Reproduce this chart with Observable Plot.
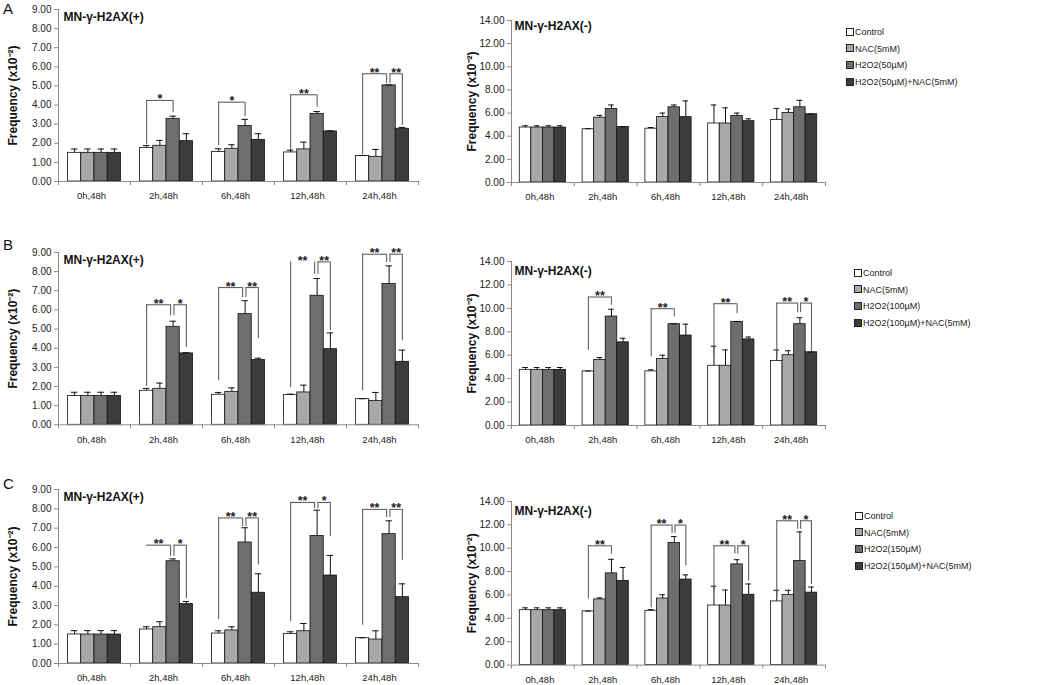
<!DOCTYPE html>
<html><head><meta charset="utf-8">
<script src="https://cdn.jsdelivr.net/npm/d3@7"></script>
<script src="https://cdn.jsdelivr.net/npm/@observablehq/plot@0.6"></script>
<style>
body{margin:0;background:#fff;font-family:"Liberation Sans",Arial,sans-serif;}
#root{position:relative;width:1050px;height:685px;overflow:hidden;background:#fff}
.p{position:absolute}
.p svg{overflow:visible}
g[aria-label="y-axis label"] text{font-weight:bold;font-size:12px;fill:#111}
g[aria-label="y-axis tick label"] text{font-size:10px}
.letter{position:absolute;font-size:15px;color:#111;line-height:1}
.legend{position:absolute;font-size:9px;color:#222}
.legend div{height:16.7px;line-height:16.7px;white-space:nowrap}
.legend span{display:inline-block;width:6px;height:6px;border:1px solid #222;margin-right:1px;vertical-align:-0.5px}
</style></head>
<body><div id="root"></div>
<script>
const categories = ["0h,48h","2h,48h","6h,48h","12h,48h","24h,48h"];
const legendA = ["Control","NAC(5mM)","H2O2(50µM)","H2O2(50µM)+NAC(5mM)"];
const legendB = ["Control","NAC(5mM)","H2O2(100µM)","H2O2(100µM)+NAC(5mM)"];
const legendC = ["Control","NAC(5mM)","H2O2(150µM)","H2O2(150µM)+NAC(5mM)"];
const titlePos = "MN-γ-H2AX(+)";
const titleNeg = "MN-γ-H2AX(-)";
const yLabel = "Frequency (x10⁻²)";

// rows: Control, NAC, H2O2, H2O2+NAC ; columns: categories
const meanPosA = [[1.5,1.76,1.55,1.52,1.33],[1.5,1.87,1.71,1.68,1.29],[1.5,3.28,2.91,3.54,5.03],[1.5,2.11,2.18,2.62,2.76]];
const errPosA  = [[0.2,0.12,0.16,0.12,0.03],[0.2,0.28,0.21,0.38,0.39],[0.2,0.14,0.34,0.12,0.02],[0.2,0.39,0.32,0.03,0.07]];
const meanNegA = [[4.75,4.6,4.65,5.1,5.4],[4.75,5.6,5.65,5.1,6.0],[4.75,6.35,6.5,5.75,6.5],[4.75,4.8,5.65,5.3,5.9]];
const errNegA  = [[0.15,0.05,0.1,1.6,1.0],[0.15,0.2,0.35,1.35,0.35],[0.15,0.35,0.2,0.25,0.6],[0.15,0.02,1.4,0.2,0.02]];
const meanPosB = [[1.5,1.78,1.57,1.55,1.34],[1.5,1.88,1.72,1.69,1.25],[1.5,5.12,5.78,6.74,7.35],[1.5,3.73,3.38,3.95,3.29]];
const errPosB  = [[0.2,0.12,0.12,0.05,0.02],[0.2,0.3,0.21,0.38,0.44],[0.2,0.29,0.7,0.9,0.95],[0.2,0.03,0.1,0.85,0.61]];
const meanNegB = [[4.75,4.62,4.62,5.1,5.5],[4.75,5.6,5.68,5.1,6.0],[4.75,9.3,8.65,8.85,8.65],[4.75,7.1,7.68,7.35,6.25]];
const errNegB  = [[0.2,0.03,0.13,1.67,0.95],[0.2,0.2,0.32,1.35,0.38],[0.2,0.62,0.02,0.02,0.55],[0.2,0.35,0.97,0.2,0.02]];
const meanPosC = [[1.5,1.76,1.55,1.52,1.31],[1.5,1.88,1.71,1.67,1.24],[1.5,5.29,6.26,6.6,6.69],[1.5,3.07,3.66,4.55,3.43]];
const errPosC  = [[0.2,0.14,0.14,0.12,0.02],[0.2,0.28,0.19,0.4,0.45],[0.2,0.12,0.76,1.33,0.69],[0.2,0.14,0.98,1.04,0.69]];
const meanNegC = [[4.7,4.6,4.65,5.1,5.45],[4.7,5.62,5.7,5.1,6.0],[4.7,7.85,10.45,8.62,8.9],[4.7,7.2,7.32,6.02,6.2]];
const errNegC  = [[0.2,0.02,0.1,1.65,0.95],[0.2,0.13,0.32,1.32,0.4],[0.2,1.2,0.55,0.4,2.5],[0.2,1.15,0.4,0.92,0.48]];

// significance brackets: [category, from series, to series, left foot, right foot, top, label, shape]
const sigPosA = [[1,0,2,1.92,3.6,4.24,"*","full"],[2,0,2,1.88,3.4,4.15,"*","full"],[3,0,2,1.62,3.89,4.54,"**","full"],[4,0,2,1.4,5.11,5.64,"**","full"],[4,2,3,5.11,2.93,5.64,"**","full"]];
const sigNegA = [];
const sigPosB = [[1,0,2,2.0,5.69,6.27,"**","full"],[1,2,3,5.69,4.04,6.27,"*","full"],[2,0,2,2.3,6.65,7.17,"**","full"],[2,2,3,6.65,4.51,7.17,"**","full"],[3,0,2,1.95,7.87,8.51,"**","noTop"],[3,2,3,7.87,4.91,8.51,"**","full"],[4,0,2,1.78,8.48,8.91,"**","full"],[4,2,3,8.48,4.39,8.91,"**","full"]];
const sigNegB = [[1,0,2,6.41,10.26,10.97,"**","full"],[2,0,2,5.84,9.26,9.97,"**","full"],[3,0,2,6.13,9.54,10.4,"**","full"],[4,0,2,5.84,9.63,10.45,"**","full"],[4,2,3,9.63,6.32,10.45,"*","full"]];
const sigPosC = [[1,0,2,6.12,5.55,6.12,"**","noLeft"],[1,2,3,5.55,3.35,6.12,"*","full"],[2,0,2,2.28,7.07,7.53,"**","full"],[2,2,3,7.07,5.09,7.53,"**","full"],[3,0,2,2.16,8.02,8.33,"**","full"],[3,2,3,8.02,6.55,8.33,"*","full"],[4,0,2,1.98,7.55,7.97,"**","full"],[4,2,3,7.55,5.34,7.97,"**","full"]];
const sigNegC = [[1,0,2,5.65,9.5,10.21,"**","full"],[2,0,2,4.9,11.26,11.98,"**","full"],[2,2,3,11.26,8.5,11.98,"*","full"],[3,0,2,6.36,9.5,10.21,"**","full"],[3,2,3,9.5,7.2,10.21,"*","full"],[4,0,2,5.7,11.63,12.35,"**","full"],[4,2,3,11.63,6.9,12.35,"*","full"]];

const fills = ["#ffffff","#a8a8a8","#6e6e6e","#3c3c3c"];
const axisColor = "#8a8a8a";
const bw = 0.184;
const root = document.getElementById("root");

function panel(cfg) {
  const {means, errs, sigs, yMax, yStep, title, left, width, mLeft, mRight, plotTop, plotBottom, labelOffset} = cfg;
  const rows = [];
  means.forEach((arr, s) => arr.forEach((v, c) => rows.push({c, s, v, e: errs[s][c], x: c + (s - 1.5) * bw})));
  const br = sigs.map(([c, from, to, lf, rf, top, label, shape]) => {
    const paired = sigs.some(o => o[0] === c && o[1] === 2);
    let xL = c + (from - 1.5) * bw, xR = c + (to - 1.5) * bw;
    if (paired && to === 2) xR -= 0.035;
    if (paired && from === 2) xL += 0.012;
    return {xL, xR, lf, rf, top, label, shape};
  });
  const mt = Math.min(plotTop, 14);
  const mb = 28;
  const height = plotBottom - plotTop + mt + mb;
  const cap = 0.045;
  const bstroke = "#606060";
  const chart = Plot.plot({
    width, height, marginLeft: mLeft, marginRight: mRight, marginTop: mt, marginBottom: mb,
    style: {fontFamily: '"Liberation Sans", Arial, sans-serif', fontSize: "9.5px", background: "transparent", overflow: "visible", color: "#222"},
    x: {domain: [-0.5, 4.5], axis: null},
    y: {domain: [0, yMax], axis: null},
    color: {type: "ordinal", domain: [0,1,2,3], range: fills},
    marks: [
      Plot.rectY(rows, {x1: d => d.x - bw/2, x2: d => d.x + bw/2, y1: 0, y2: "v", fill: "s", stroke: "#111", strokeWidth: 0.8}),
      Plot.ruleX(rows, {x: "x", y1: "v", y2: d => d.v + d.e, stroke: "#111", strokeWidth: 1}),
      Plot.ruleY(rows, {y: d => d.v + d.e, x1: d => d.x - cap, x2: d => d.x + cap, stroke: "#111", strokeWidth: 1}),
      Plot.ruleX(br.filter(d => d.shape !== "noLeft"), {x: "xL", y1: "lf", y2: "top", stroke: bstroke, strokeWidth: 1.1}),
      Plot.ruleX(br, {x: "xR", y1: "rf", y2: "top", stroke: bstroke, strokeWidth: 1.1}),
      Plot.ruleY(br.filter(d => d.shape !== "noTop"), {y: "top", x1: "xL", x2: "xR", stroke: bstroke, strokeWidth: 1.1}),
      Plot.text(br, {x: d => (d.xL + d.xR) / 2, y: "top", text: "label", lineAnchor: "bottom", dy: 3, fontSize: 12.5, fontWeight: "bold", fill: "#222"}),
      Plot.ruleY([0], {stroke: axisColor}),
      Plot.ruleX([-0.5], {stroke: axisColor}),
      Plot.axisY({ticks: d3.range(0, yMax + 1e-9, yStep), tickFormat: d => d.toFixed(2), tickSize: 4, tickPadding: 3, stroke: axisColor, fill: "#222",
        label: yLabel, labelAnchor: "center", labelArrow: "none", labelOffset}),
      Plot.axisX({ticks: [-0.5, 0.5, 1.5, 2.5, 3.5, 4.5], tickSize: 4, tickFormat: () => "", stroke: axisColor, label: null}),
      Plot.axisX({ticks: [0, 1, 2, 3, 4], tickSize: 0, tickPadding: 11, tickFormat: i => categories[i], dx: -3, fill: "#222", label: null}),
      Plot.text([title], {text: d => d, frameAnchor: "top-left", dx: cfg.titleDx, dy: cfg.titleDy, lineAnchor: "middle", fontSize: 12, fontWeight: "bold", fill: "#111"})
    ]
  });
  const div = document.createElement("div");
  div.className = "p";
  div.style.left = left + "px";
  div.style.top = (plotTop - mt) + "px";
  div.style.width = width + "px";
  div.appendChild(chart);
  root.appendChild(div);
}

function legend(items, left, top) {
  const d = document.createElement("div");
  d.className = "legend";
  d.style.left = left + "px"; d.style.top = top + "px";
  items.forEach((t, i) => {
    const it = document.createElement("div");
    const sw = document.createElement("span");
    sw.style.background = fills[i];
    it.appendChild(sw);
    it.appendChild(document.createTextNode(t));
    d.appendChild(it);
  });
  root.appendChild(d);
}

function letter(t, left, top) {
  const d = document.createElement("div");
  d.className = "letter"; d.textContent = t;
  d.style.left = left + "px"; d.style.top = top + "px";
  root.appendChild(d);
}

const leftCfg = {left: 0, width: 440, mLeft: 58, mRight: 22, yMax: 9, yStep: 1, title: titlePos, labelOffset: 50, titleDx: 5, titleDy: 8};
const rightCfg = {left: 440, width: 400, mLeft: 71, mRight: 15, yMax: 14, yStep: 2, title: titleNeg, labelOffset: 44, titleDx: 3, titleDy: 8};

panel({...leftCfg, means: meanPosA, errs: errPosA, sigs: sigPosA, plotTop: 9, plotBottom: 181});
panel({...rightCfg, means: meanNegA, errs: errNegA, sigs: sigNegA, plotTop: 20, plotBottom: 182, titleDy: 6});
panel({...leftCfg, means: meanPosB, errs: errPosB, sigs: sigPosB, plotTop: 251.7, plotBottom: 424});
panel({...rightCfg, means: meanNegB, errs: errNegB, sigs: sigNegB, plotTop: 261, plotBottom: 425, titleDy: 10});
panel({...leftCfg, means: meanPosC, errs: errPosC, sigs: sigPosC, plotTop: 489.3, plotBottom: 663.3});
panel({...rightCfg, means: meanNegC, errs: errNegC, sigs: sigNegC, plotTop: 500.7, plotBottom: 664.3, titleDy: 10});

legend(legendA, 846, 24);
legend(legendB, 854, 265);
legend(legendC, 855, 508);
letter("A", 3, 1);
letter("B", 3, 237);
letter("C", 3, 476);
</script>
</body></html>
